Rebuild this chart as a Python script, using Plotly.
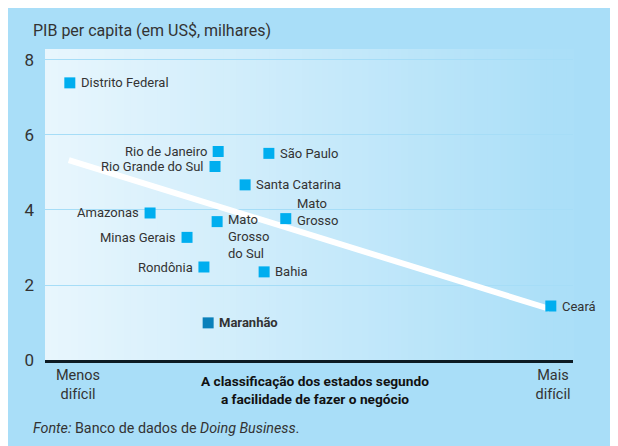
import plotly.graph_objects as go

# ---- data ----
states = ["Distrito Federal", "Rio de Janeiro", "Rio Grande do Sul", "São Paulo",
          "Santa Catarina", "Amazonas", "Mato Grosso do Sul", "Mato Grosso",
          "Minas Gerais", "Rondônia", "Bahia", "Maranhão", "Ceará"]
labels = ["Distrito Federal", "Rio de Janeiro", "Rio Grande do Sul", "São Paulo",
          "Santa Catarina", "Amazonas", "Mato<br>Grosso<br>do Sul", "Mato<br>Grosso",
          "Minas Gerais", "Rondônia", "Bahia", "<b>Maranhão</b>", "Ceará"]
difficulty = [4.7, 32.8, 32.2, 42.4, 37.9, 19.9, 32.6, 45.6, 26.9, 30.1, 41.5, 30.9, 95.8]
gdp_pc = [7.39, 5.56, 5.16, 5.51, 4.67, 3.92, 3.69, 3.77, 3.27, 2.48, 2.35, 0.99, 1.44]

trend_x = [4.5, 95.6]
trend_y = [5.33, 1.36]

y_ticks = [0, 2, 4, 6, 8]
x_tick_vals = [6.25, 96.2]
x_tick_text = ["Menos<br>difícil", "Mais<br>difícil"]

# ---- style ----
FONT = "Roboto, Arial, sans-serif"
TXT = "#333333"
PANEL = "#A9DEF8"
label_side = ["right", "left", "left", "right", "right", "left", "right", "right",
              "left", "left", "right", "right", "right"]
label_yshift = [0, 0, 0, 0, 0, 0, -15, 7, 0, 0, 0, 0, 0]
marker_colors = ["#00AEEF"] * len(states)
marker_colors[states.index("Maranhão")] = "#0A80BA"

fig = go.Figure()

# trend line
fig.add_trace(go.Scatter(x=trend_x, y=trend_y, mode="lines",
                         line=dict(color="white", width=6), hoverinfo="skip",
                         showlegend=False))
# points
fig.add_trace(go.Scatter(x=difficulty, y=gdp_pc, mode="markers",
                         marker=dict(symbol="square", size=11, color=marker_colors,
                                     line=dict(width=0)),
                         text=states, hoverinfo="text", showlegend=False))

annotations = []
for xv, yv, lab, side, ys in zip(difficulty, gdp_pc, labels, label_side, label_yshift):
    annotations.append(dict(
        x=xv, y=yv, xref="x", yref="y", text=lab, showarrow=False,
        xanchor="left" if side == "right" else "right", yanchor="middle",
        xshift=9 if side == "right" else -9, yshift=ys, align="left",
        font=dict(family=FONT, size=13, color=TXT)))

# titles & source
annotations.append(dict(x=-0.0265, y=1.0, xref="paper", yref="paper", yshift=19,
                        xanchor="left", yanchor="middle", showarrow=False,
                        text="PIB per capita (em US$, milhares)",
                        font=dict(family=FONT, size=16, color=TXT)))
annotations.append(dict(x=0.511, y=0, xref="paper", yref="paper", yshift=-11,
                        xanchor="center", yanchor="top", showarrow=False,
                        text="<b>A classificação dos estados segundo<br>a facilidade de fazer o negócio</b>",
                        font=dict(family=FONT, size=13.7, color="#111111")))
annotations.append(dict(x=-0.0265, y=0, xref="paper", yref="paper", yshift=-68,
                        xanchor="left", yanchor="middle", showarrow=False,
                        text="<i>Fonte:</i> Banco de dados de <i>Doing Business</i>.",
                        font=dict(family=FONT, size=14.3, color=TXT)))

# gradient plot-area background as thin shapes
shapes = []
n = 80
c0 = (0xE8, 0xF6, 0xFD)
c1 = (0xAB, 0xDF, 0xF8)
for i in range(n):
    t = i / (n - 1)
    tt = min(1.0, t / 0.97)
    col = tuple(round(a + (b - a) * tt) for a, b in zip(c0, c1))
    shapes.append(dict(type="rect", xref="paper", yref="paper",
                       x0=i / n, x1=(i + 1) / n + 0.002, y0=0, y1=1,
                       fillcolor="rgb(%d,%d,%d)" % col, line=dict(width=0),
                       layer="below"))

fig.update_layout(
    width=610, height=438,
    margin=dict(l=37, r=45, t=41, b=86),
    paper_bgcolor=PANEL, plot_bgcolor="rgba(0,0,0,0)",
    font=dict(family=FONT, color=TXT),
    shapes=shapes, annotations=annotations,
    xaxis=dict(range=[0, 100], showgrid=False, zeroline=False,
               tickvals=x_tick_vals, ticktext=x_tick_text, ticks="",
               tickfont=dict(family=FONT, size=14.5, color=TXT),
               showline=True, linecolor="#0d1b24", linewidth=3,
               fixedrange=True),
    yaxis=dict(range=[0, 8.293], tickvals=y_ticks, ticks="",
               showgrid=True, gridcolor="#A6DDF7", gridwidth=1,
               zeroline=False, showline=False, ticklabelstandoff=10,
               tickfont=dict(family=FONT, size=17, color=TXT),
               fixedrange=True),
)

fig.write_html("out.html")
